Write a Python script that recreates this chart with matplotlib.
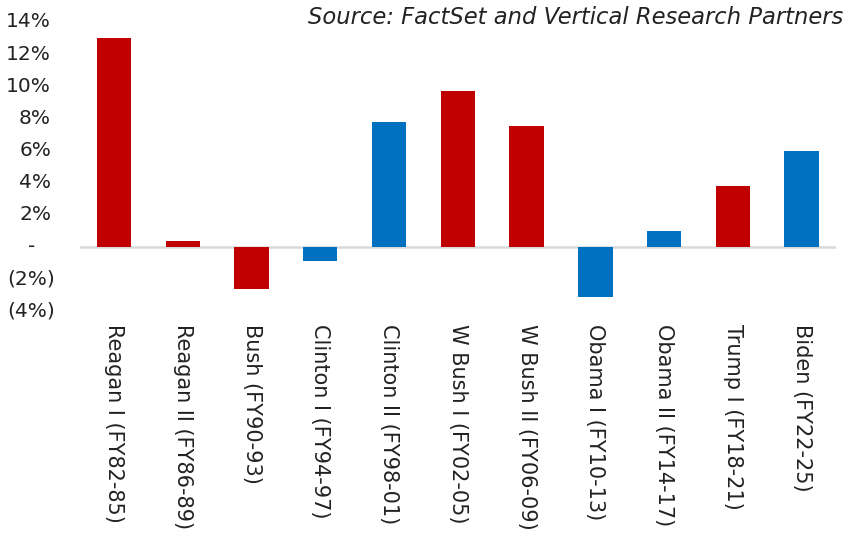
import matplotlib.pyplot as plt
from matplotlib.transforms import blended_transform_factory

# Data
terms = ['Reagan I (FY82-85)', 'Reagan II (FY86-89)', 'Bush (FY90-93)',
         'Clinton I (FY94-97)', 'Clinton II (FY98-01)', 'W Bush I (FY02-05)',
         'W Bush II (FY06-09)', 'Obama I (FY10-13)', 'Obama II (FY14-17)',
         'Trump I (FY18-21)', 'Biden (FY22-25)']
growth = [13.0, 0.35, -2.6, -0.9, 7.8, 9.7, 7.5, -3.1, 1.0, 3.8, 5.95]
party = ['R', 'R', 'R', 'D', 'D', 'R', 'R', 'D', 'D', 'R', 'D']
y_ticks = [-4, -2, 0, 2, 4, 6, 8, 10, 12, 14]

party_colors = {'R': '#C00000', 'D': '#0070C0'}

plt.rcParams['font.family'] = ['DejaVu Sans']
text_color = '#222222'

W, H = 847, 547
fig = plt.figure(figsize=(W / 100, H / 100), dpi=100)
ax = fig.add_axes([0.094, 0.431, 0.893, 0.529])

x = range(len(terms))
ax.bar(x, growth, width=0.5, color=[party_colors[p] for p in party], zorder=2)
ax.axhline(0, color='#d9d9d9', lw=1.8, zorder=1)

ax.set_xlim(-0.5, len(terms) - 0.5)
ax.set_ylim(y_ticks[0], y_ticks[-1])
ax.set_yticks(y_ticks)
ax.set_yticklabels([])
ax.set_xticks(list(x))
ax.set_xticklabels(terms, rotation=-90, va='top', ha='center', fontsize=15,
                   color=text_color)
ax.tick_params(axis='both', length=0)
ax.tick_params(axis='x', pad=9)

for s in ax.spines.values():
    s.set_visible(False)

# accounting-style y labels: "14%", "-", "(2%)"
ytrans = blended_transform_factory(fig.transFigure, ax.transData)
for v in y_ticks:
    if v == 0:
        lbl, xpix, ha = '-', 32, 'center'
    elif v < 0:
        lbl, xpix, ha = f'({-v}%)', 55, 'right'
    else:
        lbl, xpix, ha = f'{v}%', 51, 'right'
    fig.text(xpix / W, v, lbl, transform=ytrans, ha=ha, va='center',
             fontsize=14.5, color=text_color)

fig.text(843 / W, 1 - 18 / H, 'Source: FactSet and Vertical Research Partners',
         ha='right', va='center', fontsize=16.3, style='italic', color=text_color)

fig.savefig('out.png', dpi=100)
